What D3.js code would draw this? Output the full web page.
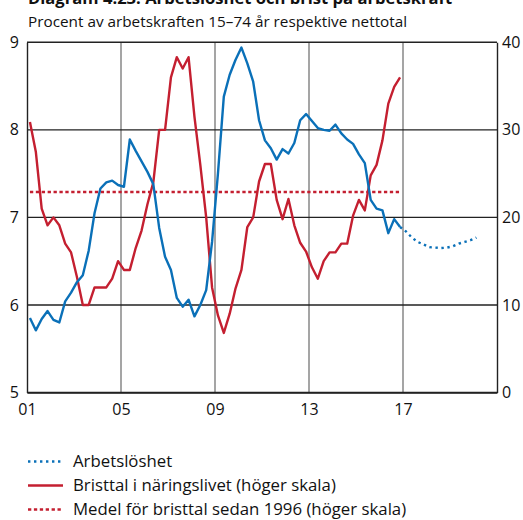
<!DOCTYPE html>
<html>
<head>
<meta charset="utf-8">
<script src="https://cdn.jsdelivr.net/npm/d3@7"></script>
<style>
  html, body { margin: 0; padding: 0; background: #fff; }
  svg { display: block; }
  text { font-family: "Open Sans", Lato, "DejaVu Sans", sans-serif; fill: #111; }
</style>
</head>
<body>
<div id="chart"></div>
<script>
// ---------- data ----------
const title = "Diagram 4.23: Arbetslöshet och brist på arbetskraft";
const subtitle = "Procent av arbetskraften 15–74 år respektive nettotal";
const startYear = 2001; // first quarter 2001Q1, quarterly data

// Arbetslöshet (vänster skala), 2001Q1–2016Q4
const unemployment = [
  5.85, 5.71, 5.84, 5.93, 5.83, 5.80, 6.04, 6.14,
  6.26, 6.34, 6.62, 7.05, 7.33, 7.40, 7.42, 7.37,
  7.35, 7.89, 7.76, 7.64, 7.52, 7.38, 6.88, 6.55,
  6.40, 6.08, 5.98, 6.06, 5.87, 6.00, 6.17, 6.72,
  7.50, 8.38, 8.63, 8.80, 8.94, 8.76, 8.55, 8.11,
  7.88, 7.79, 7.66, 7.78, 7.73, 7.85, 8.11, 8.18,
  8.10, 8.02, 8.00, 7.99, 8.06, 7.96, 7.89, 7.84,
  7.72, 7.62, 7.20, 7.10, 7.08, 6.82, 6.98, 6.89
];
// Prognos arbetslöshet, 2017Q1–2020Q1
const unemploymentForecast = [
  6.84, 6.77, 6.72, 6.69, 6.66, 6.655, 6.65, 6.655, 6.67, 6.70, 6.72, 6.74, 6.77
];
// Bristtal i näringslivet (höger skala), 2001Q1–2016Q4
const shortage = [
  30.9, 27.5, 21.0, 19.1, 20.0, 19.1, 17.0, 16.0,
  13.2, 10.0, 10.0, 12.0, 12.0, 12.0, 13.0, 15.0,
  14.0, 14.0, 16.5, 18.5, 21.5, 24.0, 30.0, 30.0,
  36.0, 38.3, 37.0, 38.3, 31.5, 26.0, 20.0, 12.0,
  8.8, 6.8, 9.0, 11.9, 14.0, 18.9, 20.0, 24.1,
  26.1, 26.1, 22.0, 19.8, 22.1, 19.1, 17.1, 16.1,
  14.3, 13.0, 15.0, 16.0, 16.0, 17.0, 17.0, 20.2,
  22.0, 20.8, 24.8, 26.0, 28.8, 33.0, 34.9, 36.0
];
const shortageMean = 22.9; // medel sedan 1996

const xTickYears = [2001, 2005, 2009, 2013, 2017];
const xTickLabels = ["01", "05", "09", "13", "17"];
const leftTicks = [5, 6, 7, 8, 9];
const rightTicks = [0, 10, 20, 30, 40];
const legendLabels = [
  "Arbetslöshet",
  "Bristtal i näringslivet (höger skala)",
  "Medel för bristtal sedan 1996 (höger skala)"
];

// ---------- layout ----------
const W = 523, H = 520;
const plot = { left: 27, right: 497, top: 42.3, bottom: 392.5 };
const blue = "#0a70b8", red = "#c41f30";
const fontFam = "'Open Sans', Lato, sans-serif";

const svg = d3.select("#chart").append("svg").attr("width", W).attr("height", H);

const x = d3.scaleLinear().domain([2001, 2021]).range([plot.left, plot.right]);
const yL = d3.scaleLinear().domain([5, 9]).range([plot.bottom, plot.top]);
const yR = d3.scaleLinear().domain([0, 40]).range([plot.bottom, plot.top]);

const qTime = i => startYear + (i + 0.5) / 4;

// title (clipped at top, as in the reference) and subtitle
svg.append("text").attr("x", 28).attr("y", 3.5)
  .attr("font-size", 16.6).attr("font-weight", "bold").text(title);
svg.append("text").attr("x", 28).attr("y", 26.5)
  .attr("font-size", 15.3).text(subtitle);

// vertical gridlines
svg.append("g").selectAll("line").data(xTickYears.slice(1)).join("line")
  .attr("x1", d => x(d)).attr("x2", d => x(d))
  .attr("y1", plot.top).attr("y2", plot.bottom)
  .attr("stroke", "#7f7f7f").attr("stroke-width", 1.4);

// horizontal gridlines
svg.append("g").selectAll("line").data(leftTicks).join("line")
  .attr("x1", plot.left).attr("x2", plot.right)
  .attr("y1", d => yL(d)).attr("y2", d => yL(d))
  .attr("stroke", "#222").attr("stroke-width", 1.4);

function styleAxis(g) {
  g.select(".domain").attr("stroke", "#222").attr("stroke-width", 1.4);
  g.selectAll("text").attr("font-size", 16).attr("fill", "#111").attr("font-family", fontFam);
}

const gL = svg.append("g").attr("transform", `translate(${plot.left},0)`)
  .call(d3.axisLeft(yL).tickValues(leftTicks).tickFormat(d3.format("d")).tickSize(0).tickPadding(8));
styleAxis(gL);

const gR = svg.append("g").attr("transform", `translate(${plot.right},0)`)
  .call(d3.axisRight(yR).tickValues(rightTicks).tickFormat(d3.format("d")).tickSize(0).tickPadding(5));
styleAxis(gR);

const gB = svg.append("g").attr("transform", `translate(0,${plot.bottom})`)
  .call(d3.axisBottom(x).tickValues(xTickYears)
    .tickFormat((d, i) => xTickLabels[i]).tickSize(0).tickPadding(11));
styleAxis(gB);

// mean line
svg.append("line")
  .attr("x1", x(qTime(0))).attr("x2", x(qTime(shortage.length - 1)))
  .attr("y1", yR(shortageMean)).attr("y2", yR(shortageMean))
  .attr("stroke", red).attr("stroke-width", 2.4).attr("stroke-dasharray", "3.3,2.6");

// series lines
const lineL = d3.line().x(d => x(d.t)).y(d => yL(d.v));
const lineR = d3.line().x(d => x(d.t)).y(d => yR(d.v));

const shortageData = shortage.map((v, i) => ({ t: qTime(i), v }));
svg.append("path").datum(shortageData).attr("d", lineR)
  .attr("fill", "none").attr("stroke", red).attr("stroke-width", 2.4)
  .attr("stroke-linejoin", "round");

const unempData = unemployment.map((v, i) => ({ t: qTime(i), v }));
svg.append("path").datum(unempData).attr("d", lineL)
  .attr("fill", "none").attr("stroke", blue).attr("stroke-width", 2.4)
  .attr("stroke-linejoin", "round");

const n0 = unemployment.length;
const fcData = [unempData[n0 - 1]].concat(
  unemploymentForecast.map((v, i) => ({ t: qTime(n0 + i), v })));
svg.append("path").datum(fcData).attr("d", lineL)
  .attr("fill", "none").attr("stroke", blue).attr("stroke-width", 2.4)
  .attr("stroke-dasharray", "2.4,3.6");

// legend
const legendStyles = [
  { color: blue, dash: "2.4,3.6" },
  { color: red, dash: null },
  { color: red, dash: "3.3,2.6" }
];
const lg = svg.append("g");
legendLabels.forEach((lab, i) => {
  const yy = 461.5 + i * 24;
  lg.append("line").attr("x1", 28).attr("x2", 63).attr("y1", yy).attr("y2", yy)
    .attr("stroke", legendStyles[i].color).attr("stroke-width", 2.4)
    .attr("stroke-dasharray", legendStyles[i].dash);
  lg.append("text").attr("x", 73).attr("y", yy + 5.5).attr("font-size", 16.8).text(lab);
});
</script>
</body>
</html>
